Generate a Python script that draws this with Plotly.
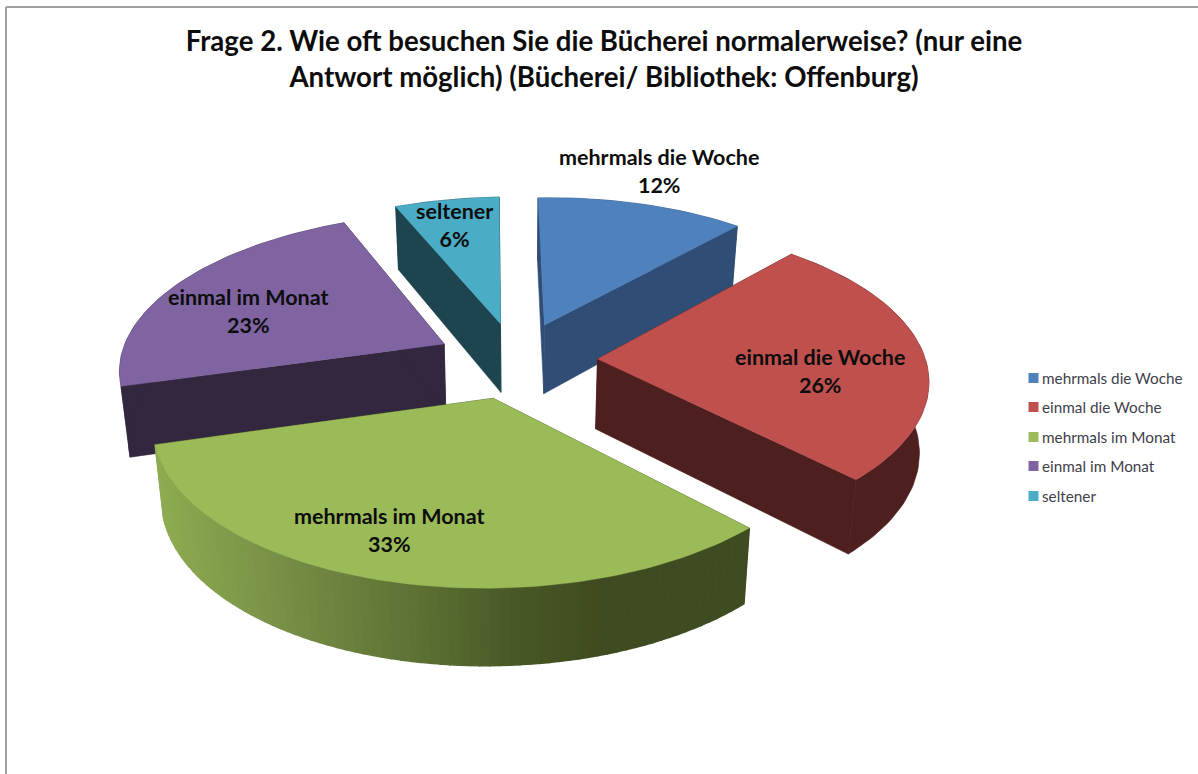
import math
import plotly.graph_objects as go

# ---- data ----
categories = ["mehrmals die Woche", "einmal die Woche", "mehrmals im Monat", "einmal im Monat", "seltener"]
values = [12, 26, 33, 23, 6]
title_text = "Frage 2. Wie oft besuchen Sie die Bücherei normalerweise? (nur eine<br>Antwort möglich) (Bücherei/ Bibliothek: Offenburg)"

# ---- style ----
top_colors = ["#4F81BD", "#C0504D", "#9BBB59", "#8064A2", "#4BACC6"]
side_colors = ["#2F4D75", "#4D1F1F", None, "#33263F", "#1D444F"]
label_pos = [(659, 171), (820, 371), (389, 530), (248, 311), (454, 225)]
legend_y = [378, 407, 437, 466, 496]
draw_order = [4, 0, 3, 1, 2]
FONT = "Lato"

# perspective disc
CX, CY, A0, B0, K, SHEAR, ROLL, EXPLODE = 516, 360, 326, 153, 0.135, 4, 5, 0.25
Z_SCALE = 0.977
ROTATE = 0.2


def project(X, Y, down=False):
    w = 1 + K * Y
    sx = CX + A0 * X / w - SHEAR * Y
    sy = CY - B0 * Y / w - ROLL * X
    if down:
        sx = CX + (sx - CX) * Z_SCALE
        sy += 70 - 6 * Y
    return sx, sy


def world(theta, mid, r=1.0):
    t, m = math.radians(theta + ROTATE), math.radians(mid + ROTATE)
    return EXPLODE * math.sin(m) + r * math.sin(t), EXPLODE * math.cos(m) + r * math.cos(t)


def green_side(x):
    stops = [(160, (141, 171, 80)), (300, (115, 138, 68)), (420, (92, 112, 50)),
             (520, (72, 87, 37)), (600, (63, 75, 32)), (760, (63, 75, 32))]
    x = max(stops[0][0], min(stops[-1][0], x))
    for (x0, c0), (x1, c1) in zip(stops, stops[1:]):
        if x <= x1:
            f = (x - x0) / (x1 - x0)
            return "rgb(%d,%d,%d)" % tuple(round(a + (b - a) * f) for a, b in zip(c0, c1))


def poly(fig, pts, color, name=None, width=0.6):
    fig.add_trace(go.Scatter(
        x=[p[0] for p in pts] + [pts[0][0]], y=[p[1] for p in pts] + [pts[0][1]],
        mode="lines", fill="toself", fillcolor=color,
        line=dict(color=color, width=width), hoverinfo="skip" if name is None else "name",
        name=name or "", showlegend=False))


fig = go.Figure()

# cumulative angles, clockwise from the top
total = sum(values)
starts, acc = [], 0
for v in values:
    starts.append(acc / total * 360)
    acc += v
ends = [s + v / total * 360 for s, v in zip(starts, values)]

for i in draw_order:
    a0, a1 = starts[i], ends[i]
    mid = (a0 + a1) / 2
    n = max(8, int((a1 - a0) / 1.5))
    thetas = [a0 + (a1 - a0) * j / n for j in range(n + 1)]
    apex = world(0, mid, 0)
    top_arc = [project(*world(t, mid)) for t in thetas]
    bot_arc = [project(*world(t, mid), down=True) for t in thetas]
    apex_top, apex_bot = project(*apex), project(*apex, down=True)
    # radial walls
    wall = side_colors[i] or "#3F4B20"
    poly(fig, [apex_top, top_arc[0], bot_arc[0], apex_bot], wall)
    poly(fig, [apex_top, top_arc[-1], bot_arc[-1], apex_bot], wall)
    # outer wall
    if side_colors[i]:
        poly(fig, top_arc + bot_arc[::-1], side_colors[i])
    else:
        for j in range(n):
            xm = (top_arc[j][0] + top_arc[j + 1][0]) / 2
            poly(fig, [top_arc[j], top_arc[j + 1], bot_arc[j + 1], bot_arc[j]], green_side(xm), width=1.5)
    # top face
    poly(fig, [apex_top] + top_arc, top_colors[i], name=f"{categories[i]}: {values[i]}%", width=0.4)

# legend
for c, col, y in zip(categories, top_colors, legend_y):
    fig.add_trace(go.Scatter(x=[1033.5], y=[y], mode="markers", showlegend=False, hoverinfo="skip",
                             marker=dict(symbol="square", size=10, color=col)))
    fig.add_annotation(x=1040, y=y, text=c, showarrow=False, xanchor="left", yanchor="middle",
                       font=dict(family=FONT, size=15.3, color="#40404A"))

# data labels
for c, v, (x, y) in zip(categories, values, label_pos):
    fig.add_annotation(x=x, y=y, text=f"<b>{c}<br>{v}%</b>", showarrow=False, align="center",
                       xanchor="center", yanchor="middle",
                       font=dict(family=FONT, size=21.5, color="#0D0D0D"))

# frame lines
fig.add_shape(type="line", x0=6, x1=6, y0=7, y1=774, line=dict(color="#A0A0A0", width=2))
fig.add_shape(type="line", x0=6, x1=1198, y0=7, y1=7, line=dict(color="#A0A0A0", width=2))

fig.update_layout(
    width=1198, height=774, margin=dict(l=0, r=0, t=0, b=0),
    paper_bgcolor="white", plot_bgcolor="white", showlegend=False,
    xaxis=dict(range=[0, 1198], visible=False, fixedrange=True),
    yaxis=dict(range=[774, 0], visible=False, fixedrange=True),
    title=dict(text=f"<b>{title_text}</b>", x=604 / 1198, xanchor="center", y=1 - 51 / 774, yanchor="middle",
               font=dict(family=FONT, size=27.6, color="#0D0D0D")),
)
fig.write_html("out.html", config={"displayModeBar": False},
               post_script="document.body.style.margin='0';document.documentElement.style.overflow='hidden';")
